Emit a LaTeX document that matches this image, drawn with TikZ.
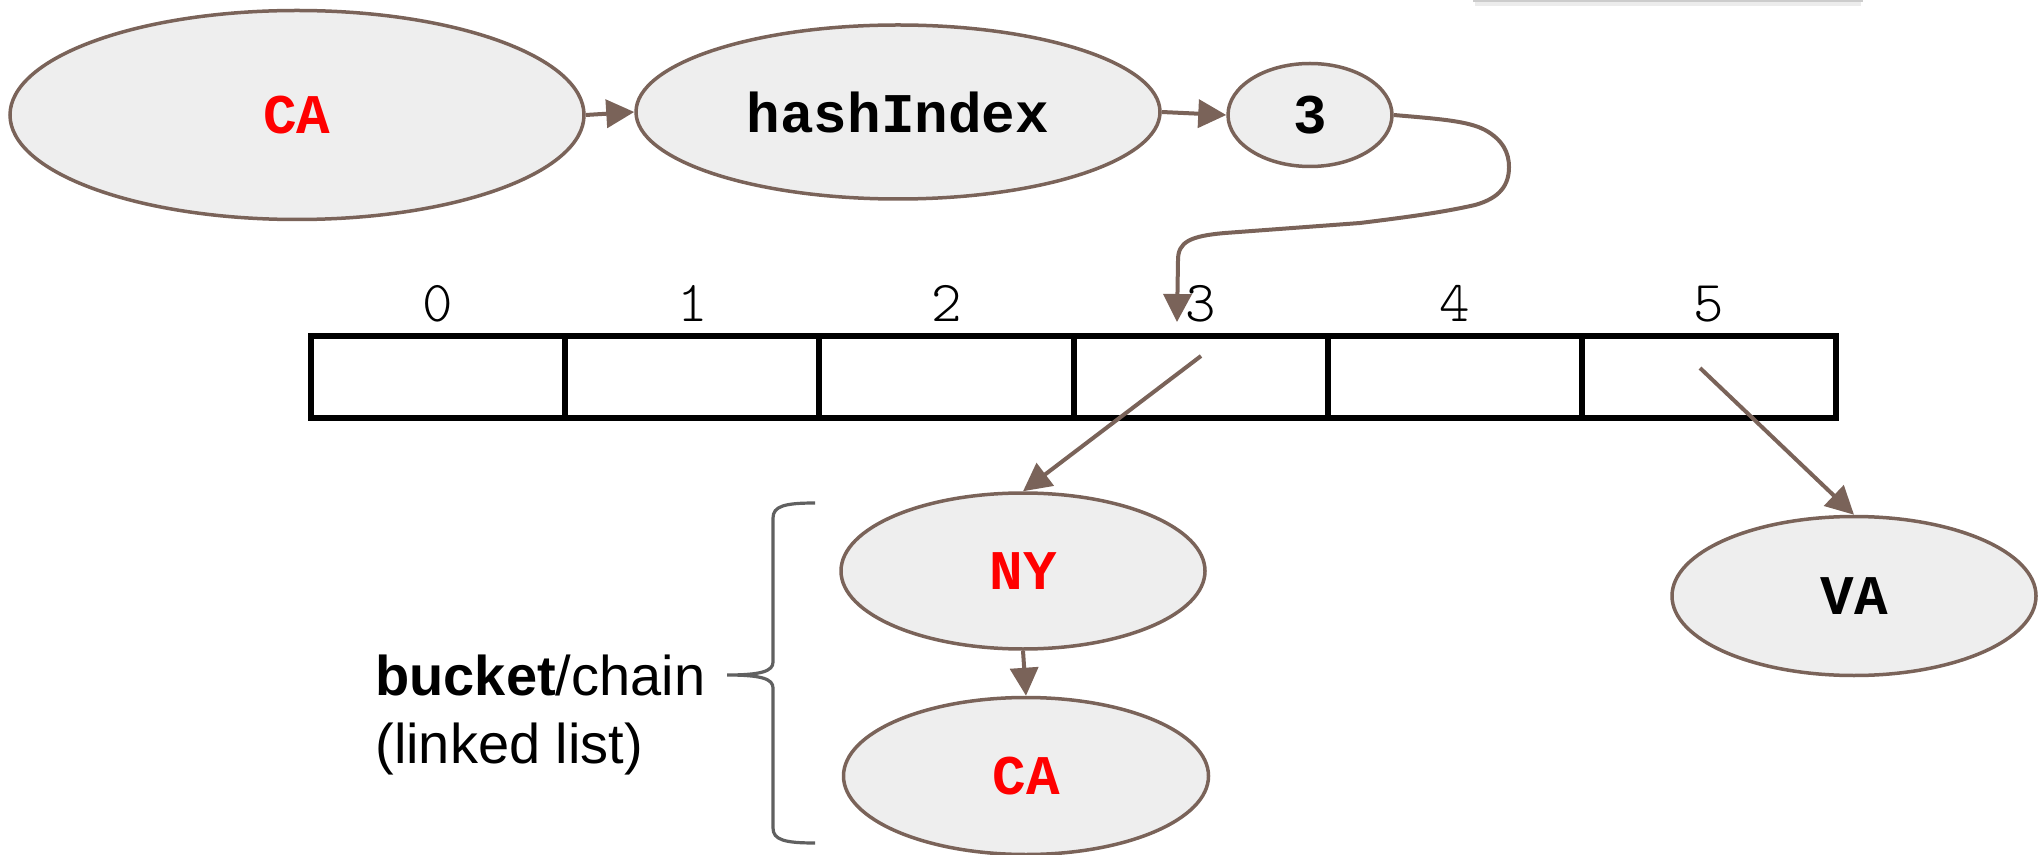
\documentclass[tikz,border=0pt]{standalone}
\usepackage{fontspec}
\setmainfont{Liberation Sans}
\newfontfamily\codefont{Liberation Mono}
\usetikzlibrary{arrows.meta,shapes.geometric}
\definecolor{edgebrown}{RGB}{122,99,89}
\definecolor{nodefill}{RGB}{238,238,238}
\definecolor{bracegray}{RGB}{96,96,96}
\definecolor{keyred}{RGB}{255,0,0}

\begin{document}
\begin{tikzpicture}[x=0.5pt,y=-0.5pt,
  keynode/.style={ellipse, draw=edgebrown, fill=nodefill, line width=1.75pt, inner sep=0pt,
    font=\codefont\bfseries\fontsize{28pt}{32pt}\selectfont},
  link/.style={draw=edgebrown, line width=2pt, -{Triangle[length=14pt,width=14pt]}},
  cellbox/.style={rectangle, draw=black, line width=3pt, minimum width=127.1pt,
    minimum height=41pt, inner sep=0pt, outer sep=0pt},
  idxlabel/.style={anchor=base, inner sep=0pt,
    font=\ttfamily\fontseries{l}\fontsize{29pt}{32pt}\selectfont},
  notetext/.style={anchor=base west, inner sep=0pt, font=\fontsize{28pt}{34pt}\selectfont}
]
\useasboundingbox (0,0) rectangle (2044,855);

% edge of a panel peeking in at the top
\fill[gray!15] (1475,2) rectangle (1861,6);
\fill[gray!40] (1473,0) rectangle (1863,2.5);

% key -> hash function -> index
\node[keynode, minimum width=287pt, minimum height=104.5pt, text=keyred] (key) at (297,115) {CA};
\node[keynode, minimum width=262pt, minimum height=87pt] (hash) at (898,112) {hashIndex};
\node[keynode, minimum width=82pt, minimum height=51.5pt] (idx) at (1310,115) {3};

\draw[link] (key.east) -- (hash.west);
\draw[link] (hash.east) -- (idx.west);

% the table
\foreach \i in {0,...,5} {
  \node[cellbox] (cell\i) at ({438.1+254.2*\i},377) {};
  \node[idxlabel] (num\i) at ({438.1+254.2*\i},322) {\i};
}

% chain nodes
\node[keynode, minimum width=182pt, minimum height=78pt, text=keyred] (ny) at (1023,571) {NY};
\node[keynode, minimum width=182.5pt, minimum height=78.5pt, text=keyred] (ca) at (1026,776) {CA};
\node[keynode, minimum width=182pt, minimum height=79.5pt] (va) at (1854,596) {VA};

% index into the table
\coordinate (slot3) at (1177,322);
\draw[link] (idx.east) .. controls (1440,119) and (1468,121) .. (1485,130)
  .. controls (1503,140) and (1509,153) .. (1509,167)
  .. controls (1509,185) and (1500,198) .. (1475,205)
  .. controls (1440,213) and (1400,218) .. (1360,223)
  -- (1225,233)
  .. controls (1190,236) and (1178,242) .. (1178,260)
  -- (slot3);

% buckets to chains
\coordinate (ptr3) at (1201,356);
\coordinate (ptr5) at (1700,368);
\draw[link] (ptr3) -- (ny.north);
\draw[link] (ptr5) -- (va.north);
\draw[link] (ny.south) -- (ca.north);

% brace around the chain
\draw[bracegray, line width=1.6pt]
  (815,503) .. controls (785,503) and (773,506) .. (773,518)
  -- (773,662) .. controls (773,671) and (762,675) .. (727,675)
  .. controls (762,675) and (773,679) .. (773,688)
  -- (773,828) .. controls (773,840) and (785,843) .. (815,843);

\node[notetext] (note1) at (375,695) {\textbf{bucket}/chain};
\node[notetext] (note2) at (375,763) {(linked list)};
\end{tikzpicture}
\end{document}
